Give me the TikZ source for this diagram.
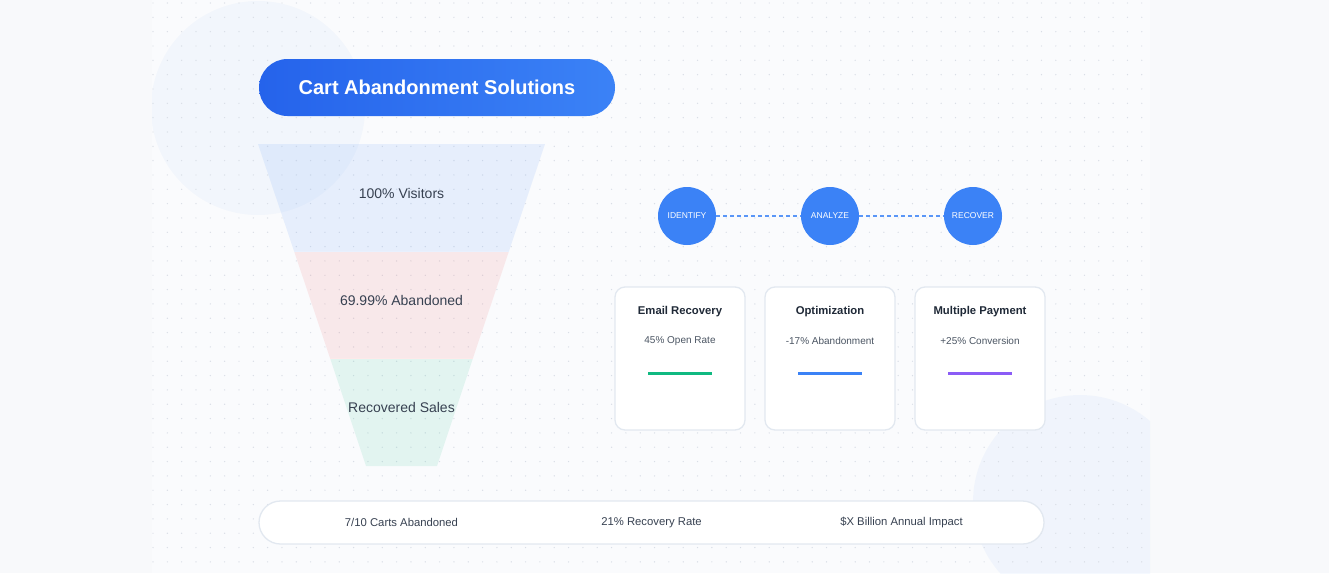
\documentclass[tikz,border=0pt]{standalone}
\usepackage{fontspec}
\setmainfont{Liberation Sans}
\usetikzlibrary{positioning}
\definecolor{pagebg}{HTML}{F8F9FB}
\definecolor{panelbg}{HTML}{FAFBFD}
\definecolor{dotgray}{HTML}{D9DEE6}
\definecolor{stepblue}{HTML}{3B82F6}
\definecolor{dashblue}{HTML}{5A96F7}
\definecolor{titleleft}{HTML}{2563EB}
\definecolor{titleright}{HTML}{3B82F6}
\definecolor{funnelred}{HTML}{EF4444}
\definecolor{funnelgreen}{HTML}{10B981}
\definecolor{barpurple}{HTML}{8B5CF6}
\definecolor{cardline}{HTML}{E2E8F0}
\definecolor{darktext}{HTML}{1F2937}
\definecolor{bodytext}{HTML}{374151}
\definecolor{softtext}{HTML}{4B5563}
\begin{document}
\begin{tikzpicture}[x=1pt, y=-1pt, node distance=143pt,
    stepnode/.style={circle, fill=stepblue, minimum size=58pt, inner sep=0pt,
      text=white, font=\fontsize{8.5}{10}\selectfont},
    dashline/.style={draw=dashblue, line width=1.5pt, dash pattern=on 4pt off 3pt},
    card/.style={draw=cardline, line width=1.3pt, fill=white, rounded corners=10pt,
      minimum width=130pt, minimum height=143pt},
    cardtitle/.style={text=darktext, font=\fontsize{11.3}{13}\selectfont\bfseries},
    cardsub/.style={text=softtext, font=\fontsize{10}{12}\selectfont},
    cardbar/.style={minimum width=64pt, minimum height=3pt, inner sep=0pt},
    funneltext/.style={text=bodytext, font=\fontsize{14}{16}\selectfont},
    stattext/.style={text=bodytext, font=\fontsize{11.3}{13}\selectfont}]
    \useasboundingbox (0,0) rectangle (1329,573);

    % Background and panel
    \fill[pagebg] (0,0) rectangle (1329,573);
    \fill[panelbg] (152,0) rectangle (1150,573);
    \begin{scope}
      \clip (152,0) rectangle (1150,573);
      \fill[stepblue, opacity=0.04] (258,108) circle (107pt);
      \fill[stepblue, opacity=0.05] (1080,502) circle (107pt);
      \foreach \i in {0,...,69}
        \foreach \j in {0,...,39}
          \fill[dotgray] (153+\i*14.33, 3+\j*14.33) circle (0.7pt);
    \end{scope}

    % Title
    \node[rounded corners=28.5pt, left color=titleleft, right color=titleright,
      minimum width=356pt, minimum height=57pt, text=white,
      font=\fontsize{20}{24}\selectfont\bfseries] (title) at (437,87.5) {Cart Abandonment Solutions};

    % Funnel
    \fill[stepblue, opacity=0.1] (258,144) -- (545,144) -- (509,251) -- (294,251) -- cycle;
    \fill[funnelred, opacity=0.1] (294,251) -- (509,251) -- (473,358) -- (330,358) -- cycle;
    \fill[funnelgreen, opacity=0.1] (330,358) -- (473,358) -- (437,466) -- (366,466) -- cycle;
    \draw[stepblue!12, line width=0.8pt] (294,251) -- (509,251);
    \draw[funnelred!12, line width=0.8pt] (330,358) -- (473,358);
    \node[funneltext] (visitors) at (401.5,193) {100\% Visitors};
    \node[funneltext] (abandoned) at (401.5,300) {69.99\% Abandoned};
    \node[funneltext] (recovered) at (401.5,407) {Recovered Sales};

    % Steps
    \node[stepnode] (identify) at (687,216) {IDENTIFY};
    \node[stepnode, right of=identify] (analyze) {ANALYZE};
    \node[stepnode, right of=analyze] (recover) {RECOVER};
    \draw[dashline] (identify) -- (analyze);
    \draw[dashline] (analyze) -- (recover);

    % Cards
    \node[card] (email) at (680,358.5) {};
    \node[card, node distance=150pt, right of=email] (optim) {};
    \node[card, node distance=150pt, right of=optim] (payment) {};

    \node[cardtitle] (emailtitle) at ([yshift=46.5pt]email.center) {Email Recovery};
    \node[cardsub] (emailsub) at ([yshift=17.5pt]email.center) {45\% Open Rate};
    \node[cardbar, fill=funnelgreen] (emailbar) at ([yshift=-14.5pt]email.center) {};

    \node[cardtitle] (optimtitle) at ([yshift=46.5pt]optim.center) {Optimization};
    \node[cardsub] (optimsub) at ([yshift=17.5pt]optim.center) {-17\% Abandonment};
    \node[cardbar, fill=stepblue] (optimbar) at ([yshift=-14.5pt]optim.center) {};

    \node[cardtitle] (paymenttitle) at ([yshift=46.5pt]payment.center) {Multiple Payment};
    \node[cardsub] (paymentsub) at ([yshift=17.5pt]payment.center) {+25\% Conversion};
    \node[cardbar, fill=barpurple] (paymentbar) at ([yshift=-14.5pt]payment.center) {};

    % Stats bar
    \node[draw=cardline, line width=1.3pt, fill=white, rounded corners=21.5pt,
      minimum width=785pt, minimum height=43pt] (stats) at (651.5,522.5) {};
    \node[stattext] (carts) at (401.5,522.5) {7/10 Carts Abandoned};
    \node[stattext] (rate) at (651.5,522.5) {21\% Recovery Rate};
    \node[stattext] (impact) at (901.5,522.5) {\$X Billion Annual Impact};

    \end{tikzpicture}
\end{document}
